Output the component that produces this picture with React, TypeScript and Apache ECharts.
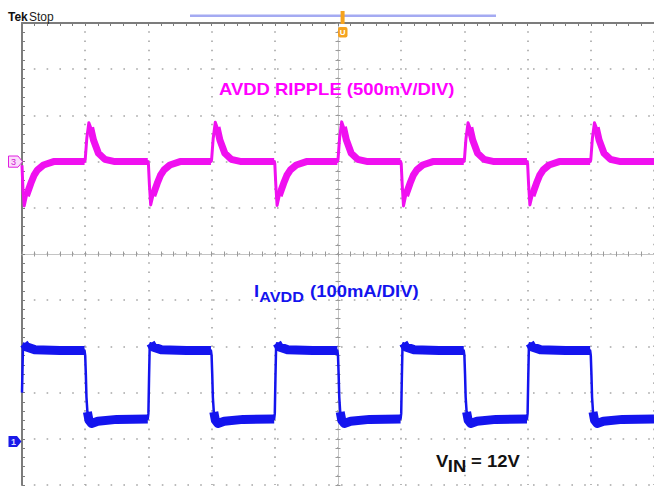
import React, { useEffect, useRef } from "react";
import * as echarts from "echarts";

// ---- data (time in divisions, current in mA, ripple in mV) ----
const currentTrace: [number, number][] = [
  [0.0, 100], [0.015, 196], [0.03, 206], [0.07, 199], [0.2, 193], [0.6, 191], [0.99, 191],
  [1.0, 180], [1.01, 140], [1.02, 90], [1.035, 58], [1.06, 40], [1.1, 33], [1.2, 38], [1.5, 42], [1.99, 43],
  [2.0, 55], [2.01, 130], [2.02, 196], [2.035, 207], [2.07, 199], [2.2, 193], [2.6, 191], [2.99, 191],
  [3.0, 180], [3.01, 140], [3.02, 90], [3.035, 58], [3.06, 40], [3.1, 33], [3.2, 38], [3.5, 42], [3.99, 43],
  [4.0, 55], [4.01, 130], [4.02, 196], [4.035, 207], [4.07, 199], [4.2, 193], [4.6, 191], [4.99, 191],
  [5.0, 180], [5.01, 140], [5.02, 90], [5.035, 58], [5.06, 40], [5.1, 33], [5.2, 38], [5.5, 42], [5.99, 43],
  [6.0, 55], [6.01, 130], [6.02, 196], [6.035, 207], [6.07, 199], [6.2, 193], [6.6, 191], [6.99, 191],
  [7.0, 180], [7.01, 140], [7.02, 90], [7.035, 58], [7.06, 40], [7.1, 33], [7.2, 38], [7.5, 42], [7.99, 43],
  [8.0, 55], [8.01, 130], [8.02, 196], [8.035, 207], [8.07, 199], [8.2, 193], [8.6, 191], [8.99, 191],
  [9.0, 180], [9.01, 140], [9.02, 90], [9.035, 58], [9.06, 40], [9.1, 33], [9.2, 38], [9.5, 42], [10.0, 43],
];

const rippleTrace: [number, number][] = [
  [0.0, -40], [0.015, -300], [0.035, -480], [0.07, -370], [0.14, -235], [0.19, -150], [0.245, -90], [0.34, -37], [0.5, 0], [0.99, 0],
  [1.0, 20], [1.025, 250], [1.058, 421], [1.086, 370], [1.131, 234], [1.209, 90], [1.31, 25], [1.47, 0], [1.99, 0],
  [2.0, -20], [2.016, -250], [2.036, -470], [2.07, -370], [2.14, -235], [2.19, -150], [2.245, -91], [2.34, -37], [2.5, 0], [2.99, 0],
  [3.0, 20], [3.025, 250], [3.058, 425], [3.086, 372], [3.131, 234], [3.209, 90], [3.31, 25], [3.47, 0], [3.99, 0],
  [4.0, -20], [4.016, -250], [4.036, -475], [4.07, -370], [4.14, -235], [4.19, -150], [4.245, -91], [4.34, -37], [4.5, 0], [4.99, 0],
  [5.0, 20], [5.025, 255], [5.058, 430], [5.086, 375], [5.131, 236], [5.209, 90], [5.31, 25], [5.47, 0], [5.99, 0],
  [6.0, -20], [6.016, -250], [6.036, -480], [6.07, -370], [6.14, -235], [6.19, -150], [6.245, -91], [6.34, -37], [6.5, 0], [6.99, 0],
  [7.0, 20], [7.025, 250], [7.058, 421], [7.086, 370], [7.131, 234], [7.209, 90], [7.31, 25], [7.47, 0], [7.99, 0],
  [8.0, -20], [8.016, -250], [8.036, -470], [8.07, -370], [8.14, -235], [8.19, -150], [8.245, -91], [8.34, -37], [8.5, 0], [8.99, 0],
  [9.0, 20], [9.025, 250], [9.058, 421], [9.086, 370], [9.131, 234], [9.209, 90], [9.31, 25], [9.47, 0], [10.0, 0],
];

// stretches of the traces where the scope's noise makes them a thick band
const currentNoisySpans: [number, number][] = [
  [0.03, 0.99], [1.035, 1.99], [2.035, 2.99], [3.035, 3.99], [4.035, 4.99],
  [5.035, 5.99], [6.035, 6.99], [7.035, 7.99], [8.035, 8.99], [9.035, 10.0],
];
const rippleNoisySpans: [number, number][] = [
  [0.07, 0.99], [1.086, 1.99], [2.07, 2.99], [3.086, 3.99], [4.07, 4.99],
  [5.086, 5.99], [6.07, 6.99], [7.086, 7.99], [8.07, 8.99], [9.086, 10.0],
];

// axis ranges: current 100 mA/div with ground 1 div above bottom; ripple 500 mV/div, ground 3 div below top
const currentAxis = { min: -100, max: 900 };
const rippleAxis = { min: -3500, max: 1500 };

function bandFromTrace(trace: [number, number][], spans: [number, number][]) {
  const out: any[] = [];
  spans.forEach(([a, b]) => {
    trace.forEach((p) => {
      if (p[0] >= a - 1e-9 && p[0] <= b + 1e-9) out.push(p);
    });
    out.push([b, null]);
  });
  return out;
}

const BLUE = "#1414ee";
const MAGENTA = "#f010f0";
const DOT = "#a6a6a6";
const BORDER = "#7c7c7c";
const CROSS = "#9a9a9a";
const FONT = '"Liberation Sans", Arial, sans-serif';
const SX = 1.154;

function crossX(inside: boolean) {
  return {
    type: "value", min: -5, max: 5, interval: 1, position: "bottom",
    axisLine: { show: true, onZero: true, onZeroAxisIndex: 2, lineStyle: { color: "#c4c4c4", width: 1 } },
    axisTick: { show: true, inside, length: 2.5, lineStyle: { color: CROSS, width: 1 } },
    minorTick: { show: true, splitNumber: 5, length: 2.5, lineStyle: { color: CROSS, width: 1 } },
    axisLabel: { show: false }, splitLine: { show: false },
  };
}
function crossY(inside: boolean) {
  return {
    type: "value", min: -5, max: 5, interval: 1, position: "left",
    axisLine: { show: true, onZero: true, onZeroAxisIndex: 2, lineStyle: { color: "#c4c4c4", width: 1 } },
    axisTick: { show: true, inside, length: 2.5, lineStyle: { color: CROSS, width: 1 } },
    minorTick: { show: true, splitNumber: 5, length: 2.5, lineStyle: { color: CROSS, width: 1 } },
    axisLabel: { show: false }, splitLine: { show: false },
  };
}

function txt(x: number, y: number, text: string, size: number, fill: string, bold = true, scale = SX, extra: any = {}) {
  return {
    type: "text", x, y, scaleX: scale, z: 100,
    style: {
      text, fill, fontSize: size, fontWeight: bold ? "bold" : "normal", fontFamily: FONT,
      align: "left", textAlign: "left", verticalAlign: "middle", textVerticalAlign: "middle", ...extra,
    },
  };
}

export default function App() {
  const ref = useRef<HTMLDivElement>(null);
  useEffect(() => {
    if (!ref.current) return;
    const chart = echarts.init(ref.current, undefined, { renderer: "svg" });
    const option: any = {
      animation: false,
      backgroundColor: "#ffffff",
      grid: { left: 22, top: 23, width: 640, height: 462, containLabel: false },
      xAxis: [
        {
          type: "value", min: 0, max: 10, interval: 1, position: "bottom",
          axisLine: { show: false, onZero: false }, axisTick: { show: false }, axisLabel: { show: false },
          splitLine: { show: true, lineStyle: { color: DOT, width: 1.6, type: [1.6, 7.64], dashOffset: 0.8 } },
        },
        {
          type: "value", min: 0, max: 10, interval: 1, position: "top",
          axisLine: { show: true, onZero: false, lineStyle: { color: BORDER, width: 2 } },
          axisTick: { show: true, inside: true, length: 3, lineStyle: { color: BORDER, width: 1 } },
          minorTick: { show: true, splitNumber: 5, length: 3, lineStyle: { color: BORDER, width: 1 } },
          axisLabel: { show: false }, splitLine: { show: false },
        },
        crossX(true),
        crossX(false),
      ],
      yAxis: [
        { type: "value", ...currentAxis, show: false, axisLine: { onZero: false } },
        { type: "value", ...rippleAxis, show: false, axisLine: { onZero: false } },
        {
          type: "value", min: -5, max: 5, interval: 1, position: "left",
          axisLine: { show: true, onZero: false, lineStyle: { color: BORDER, width: 2 } },
          axisTick: { show: true, inside: true, length: 3, lineStyle: { color: BORDER, width: 1 } },
          minorTick: { show: true, splitNumber: 5, length: 3, lineStyle: { color: BORDER, width: 1 } },
          axisLabel: { show: false },
          splitLine: { show: true, lineStyle: { color: DOT, width: 1.6, type: [1.6, 11.2], dashOffset: 0.8 } },
        },
        crossY(true),
        crossY(false),
      ],
      series: [
        {
          type: "line", xAxisIndex: 0, yAxisIndex: 1, data: bandFromTrace(rippleTrace, rippleNoisySpans),
          symbol: "none", connectNulls: false, silent: true,
          lineStyle: { color: MAGENTA, width: 7, cap: "butt", join: "round" },
        },
        {
          type: "line", xAxisIndex: 0, yAxisIndex: 1, data: rippleTrace,
          symbol: "none", silent: true, lineStyle: { color: MAGENTA, width: 3, join: "round" },
        },
        {
          type: "line", xAxisIndex: 0, yAxisIndex: 0, data: bandFromTrace(currentTrace, currentNoisySpans),
          symbol: "none", connectNulls: false, silent: true,
          lineStyle: { color: BLUE, width: 9, cap: "butt", join: "round" },
        },
        {
          type: "line", xAxisIndex: 0, yAxisIndex: 0, data: currentTrace,
          symbol: "none", silent: true, lineStyle: { color: BLUE, width: 2.5, join: "round" },
        },
      ],
      graphic: [
        txt(8, 16.5, "Tek", 12, "#111111", true, 1),
        txt(29, 16.8, "Stop", 12, "#222222", false, 1),
        { type: "rect", shape: { x: 190, y: 14.5, width: 306, height: 2.5 }, style: { fill: "#a4aaf2" }, z: 100 },
        { type: "rect", shape: { x: 340.6, y: 11, width: 4, height: 13 }, style: { fill: "#f5a31f" }, z: 100 },
        { type: "rect", shape: { x: 338, y: 27, width: 9.5, height: 10.5, r: 2 }, style: { fill: "#f5a31f" }, z: 100 },
        txt(342.7, 32.2, "U", 8, "#ffffff", true, 1, { align: "center", textAlign: "center" }),
        txt(219, 89, "AVDD RIPPLE (500mV/DIV)", 16, "#ff00ff"),
        txt(254, 291, "I", 16, BLUE),
        txt(259.3, 296.5, "AVDD", 14, BLUE),
        txt(310, 291, "(100mA/DIV)", 16, BLUE),
        txt(436, 461, "V", 16, "#111111"),
        txt(447.8, 466, "IN", 16, "#111111"),
        txt(471, 461, "= 12V", 16, "#111111"),
        {
          type: "polygon", z: 100,
          shape: { points: [[8.5, 156], [18, 156], [22.5, 161.6], [18, 167.2], [8.5, 167.2]] },
          style: { fill: "#fbdcfb", stroke: "#e020e0", lineWidth: 1 },
        },
        txt(13.6, 161.8, "3", 9, "#d010d0", false, 1, { align: "center", textAlign: "center" }),
        {
          type: "polygon", z: 100,
          shape: { points: [[8.5, 436], [17, 436], [21.5, 441.5], [17, 447], [8.5, 447]] },
          style: { fill: "#1a1ae8" },
        },
        txt(13.4, 441.7, "1", 9, "#dcdcff", true, 1, { align: "center", textAlign: "center" }),
      ],
    };
    chart.setOption(option);
    return () => chart.dispose();
  }, []);
  return (
    <div
      ref={ref}
      style={{ position: "fixed", left: 0, top: 0, width: 654, height: 486, background: "#ffffff" }}
    />
  );
}
